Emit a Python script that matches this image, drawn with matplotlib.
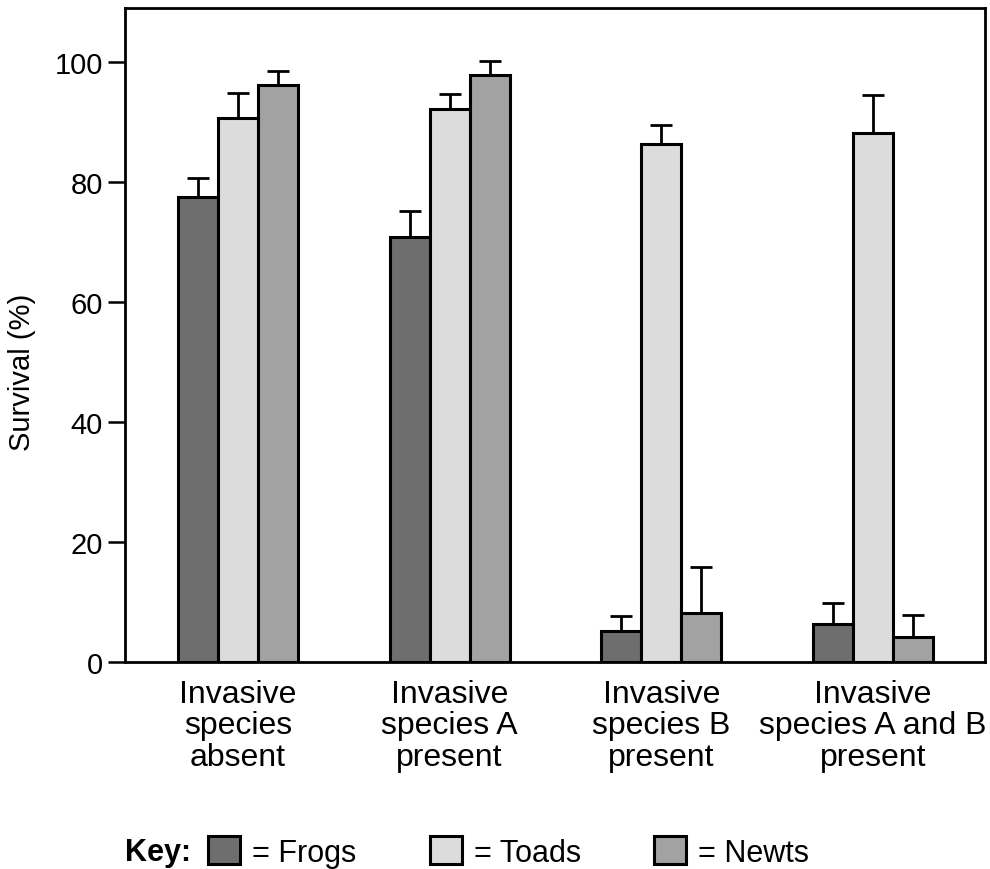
import matplotlib
matplotlib.use("Agg")
import matplotlib.pyplot as plt
import numpy as np
from matplotlib.patches import Patch

plt.rcParams["font.family"] = ["Liberation Sans", "DejaVu Sans"]

groups = ["Invasive\nspecies\nabsent", "Invasive\nspecies A\npresent",
          "Invasive\nspecies B\npresent", "Invasive\nspecies A and B\npresent"]
frogs = [77.5, 70.8, 5.2, 6.3]
frogs_err = [3.2, 4.4, 2.5, 3.5]
toads = [90.6, 92.2, 86.3, 88.2]
toads_err = [4.3, 2.4, 3.2, 6.3]
newts = [96.1, 97.8, 8.2, 4.2]
newts_err = [2.4, 2.4, 7.6, 3.6]
series_names = ["= Frogs", "= Toads", "= Newts"]
colors = ["#6e6e6e", "#dcdcdc", "#a2a2a2"]
yticks = [0, 20, 40, 60, 80, 100]

fig = plt.figure(figsize=(9.9, 8.7), dpi=100)
ax = fig.add_axes([125 / 990, 1 - 663 / 870, 860 / 990, 654 / 870])

x = np.arange(len(groups))
w = 0.189
handles = []
for i, (vals, errs, col, name) in enumerate(zip([frogs, toads, newts],
                                                 [frogs_err, toads_err, newts_err],
                                                 colors, series_names)):
    pos = x + (i - 1) * w
    ax.errorbar(pos, vals, yerr=[np.zeros(len(errs)), errs], fmt="none",
                ecolor="black", elinewidth=2, capsize=7.9, capthick=2, zorder=1)
    ax.bar(pos, vals, width=w, color=col, edgecolor="black", linewidth=2.2, zorder=2)
    handles.append(Patch(facecolor=col, edgecolor="black", linewidth=2.2, label=name))

ax.set_xlim(-0.534, 3.53)
ax.set_ylim(0, 109)
ax.set_xticks(x)
ax.set_xticklabels(groups, fontsize=23, linespacing=1.07)
ax.tick_params(axis="x", length=0, pad=12)
ax.set_yticks(yticks)
ax.tick_params(axis="y", labelsize=21, length=12, width=1.8, pad=4)
ax.set_ylabel("Survival (%)", fontsize=21)
ax.yaxis.set_label_coords(-0.103, 0.445)
for s in ax.spines.values():
    s.set_linewidth(2)

fig.text(125 / 990, 1 - 853 / 870, "Key:", fontsize=22, fontweight="bold",
         va="center", ha="left")
fig.legend(handles=handles, loc="center left", bbox_to_anchor=(208 / 990, 1 - 853 / 870),
           ncol=3, frameon=False, fontsize=22, borderpad=0, borderaxespad=0,
           handlelength=1.05, handleheight=1.0, handletextpad=0.39, columnspacing=2.4)

fig.savefig("out.png", dpi=100)
